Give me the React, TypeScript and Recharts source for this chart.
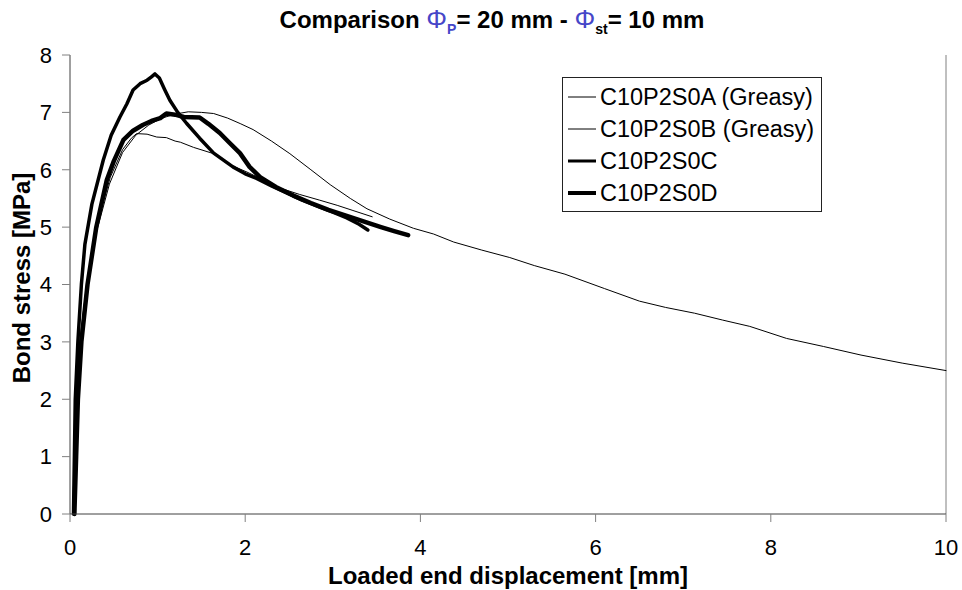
import { LineChart, Line, XAxis, YAxis, Legend, ReferenceLine } from "recharts";

const FONT = "'Liberation Sans', Arial, sans-serif";

const xTicks = [0, 2, 4, 6, 8, 10];
const yTicks = [0, 1, 2, 3, 4, 5, 6, 7, 8];

// [displacement mm, bond stress MPa]
const seriesA: [number, number][] = [
    [0.05, 0], [0.06, 1], [0.08, 2], [0.12, 3], [0.2, 4], [0.3, 4.9], [0.45, 5.75], [0.6, 6.3],
    [0.75, 6.6], [0.9, 6.78], [1.05, 6.9], [1.2, 6.97], [1.35, 7.01], [1.5, 7.0], [1.64, 6.98],
    [1.8, 6.9], [1.95, 6.8], [2.09, 6.7], [2.3, 6.5], [2.51, 6.28], [2.75, 6.0], [2.97, 5.74],
    [3.2, 5.5], [3.39, 5.32], [3.65, 5.14], [3.92, 4.98], [4.15, 4.88], [4.38, 4.74], [4.7, 4.6],
    [5.02, 4.47], [5.3, 4.33], [5.65, 4.18], [6.1, 3.93], [6.5, 3.71], [6.8, 3.6], [7.13, 3.5],
    [7.45, 3.38], [7.76, 3.27], [8.18, 3.06], [8.6, 2.92], [9.03, 2.77], [9.5, 2.63], [10, 2.5],
];

const seriesB: [number, number][] = [
    [0.04, 0], [0.05, 1], [0.07, 2], [0.11, 3], [0.19, 4], [0.3, 5], [0.46, 5.87], [0.6, 6.35],
    [0.7, 6.55], [0.76, 6.63], [0.88, 6.62], [0.99, 6.57], [1.1, 6.56], [1.2, 6.5], [1.26, 6.48],
    [1.41, 6.39], [1.64, 6.28], [1.79, 6.11], [2.02, 5.96], [2.17, 5.85], [2.4, 5.68], [2.62, 5.57],
    [2.85, 5.47], [3.05, 5.38], [3.23, 5.29], [3.45, 5.18],
];

const seriesC: [number, number][] = [
    [0.04, 0], [0.05, 1], [0.06, 2], [0.09, 3], [0.13, 4], [0.17, 4.7], [0.25, 5.4], [0.38, 6.17],
    [0.47, 6.6], [0.57, 6.92], [0.65, 7.15], [0.72, 7.39], [0.8, 7.5], [0.88, 7.56], [0.93, 7.62],
    [0.97, 7.67], [1.02, 7.6], [1.08, 7.4], [1.14, 7.21], [1.23, 7.0], [1.33, 6.81], [1.48, 6.55],
    [1.64, 6.29], [1.86, 6.05], [2.0, 5.93], [2.13, 5.85], [2.3, 5.72], [2.48, 5.59], [2.65, 5.47],
    [2.85, 5.35], [3.0, 5.26], [3.16, 5.16], [3.3, 5.05], [3.4, 4.95],
];

const seriesD: [number, number][] = [
    [0.05, 0], [0.07, 1], [0.09, 2], [0.13, 3], [0.2, 4], [0.3, 5], [0.42, 5.82], [0.5, 6.15],
    [0.61, 6.52], [0.72, 6.68], [0.83, 6.78], [0.93, 6.85], [1.03, 6.9], [1.1, 6.98], [1.2, 6.96],
    [1.3, 6.92], [1.48, 6.91], [1.58, 6.8], [1.71, 6.64], [1.82, 6.47], [1.94, 6.29], [2.05, 6.05],
    [2.17, 5.87], [2.35, 5.7], [2.55, 5.55], [2.75, 5.42], [2.95, 5.3], [3.15, 5.2], [3.35, 5.1],
    [3.55, 5.0], [3.7, 4.93], [3.86, 4.86],
];

const toPoints = (arr: [number, number][]) => arr.map(([x, y]) => ({ x, y }));

const SERIES = [
    { name: "C10P2S0A (Greasy)", data: toPoints(seriesA), width: 1 },
    { name: "C10P2S0B (Greasy)", data: toPoints(seriesB), width: 1 },
    { name: "C10P2S0C", data: toPoints(seriesC), width: 3.5 },
    { name: "C10P2S0D", data: toPoints(seriesD), width: 4.5 },
];

function LegendBox() {
    return (
        <div style={{ border: "1px solid #222", background: "#fff", padding: "3px 0 3px 5px", fontFamily: FONT, fontSize: 23.5, color: "#000", boxSizing: "border-box", width: 260, height: 135 }}>
            {SERIES.map(s => (
                <div key={s.name} style={{ display: "flex", alignItems: "center", height: 32 }}>
                    <svg width={28} height={10}>
                        <line x1={0} y1={5} x2={28} y2={5} stroke="#000" strokeWidth={s.width === 1 ? 1 : s.width - 0.5} />
                    </svg>
                    <span style={{ marginLeft: 4, whiteSpace: "nowrap" }}>{s.name}</span>
                </div>
            ))}
        </div>
    );
}

export default function App() {
    const blue = "#4646c8";
    return (
        <div style={{ position: "absolute", left: 0, top: 0, width: 962, height: 590, background: "#fff" }}>
            <div style={{ position: "absolute", left: 0, top: 4, width: 984, textAlign: "center", fontFamily: FONT, fontWeight: "bold", fontSize: 24 }}>
                Comparison <span style={{ color: blue, fontWeight: "normal", fontSize: 26 }}>Φ</span>
                <sub style={{ color: blue, fontSize: 14 }}>P</sub>= 20 mm - <span style={{ color: blue, fontWeight: "normal", fontSize: 26 }}>Φ</span>
                <sub style={{ fontSize: 14 }}>st</sub>= 10 mm
            </div>
            <LineChart
                width={962}
                height={590}
                margin={{ top: 55, right: 16, bottom: 36, left: 10 }}
            >
                <XAxis
                    dataKey="x"
                    type="number"
                    domain={[0, 10]}
                    ticks={xTicks}
                    height={40}
                    tickSize={8}
                    tickMargin={17}
                    axisLine={{ stroke: "#404040" }}
                    tickLine={{ stroke: "#808080" }}
                    tick={{ fill: "#000", fontSize: 22, fontFamily: FONT }}
                />
                <YAxis
                    type="number"
                    domain={[0, 8]}
                    ticks={yTicks}
                    width={60}
                    tickSize={8}
                    tickMargin={10}
                    axisLine={{ stroke: "#404040" }}
                    tickLine={{ stroke: "#808080" }}
                    tick={{ fill: "#000", fontSize: 22, fontFamily: FONT }}
                />
                <ReferenceLine x={10} stroke="#808080" />
                {SERIES.map(s => (
                    <Line
                        key={s.name}
                        name={s.name}
                        data={s.data}
                        dataKey="y"
                        type="linear"
                        stroke="#000"
                        strokeWidth={s.width}
                        strokeLinejoin="round"
                        strokeLinecap="round"
                        dot={false}
                        activeDot={false}
                        isAnimationActive={false}
                    />
                ))}
                <Legend
                    layout="vertical"
                    align="center"
                    verticalAlign="middle"
                    content={() => <LegendBox />}
                    wrapperStyle={{ left: 562, top: 77, width: 260 }}
                />
            </LineChart>
            <div style={{ position: "absolute", left: 0, top: 562, width: 1016, textAlign: "center", fontFamily: FONT, fontWeight: "bold", fontSize: 24 }}>
                Loaded end displacement [mm]
            </div>
            <div style={{ position: "absolute", left: 22, top: 278, width: 0, height: 0 }}>
                <div style={{ position: "absolute", transform: "translate(-50%, -50%) rotate(-90deg)", whiteSpace: "nowrap", fontFamily: FONT, fontWeight: "bold", fontSize: 24 }}>
                    Bond stress [MPa]
                </div>
            </div>
        </div>
    );
}
